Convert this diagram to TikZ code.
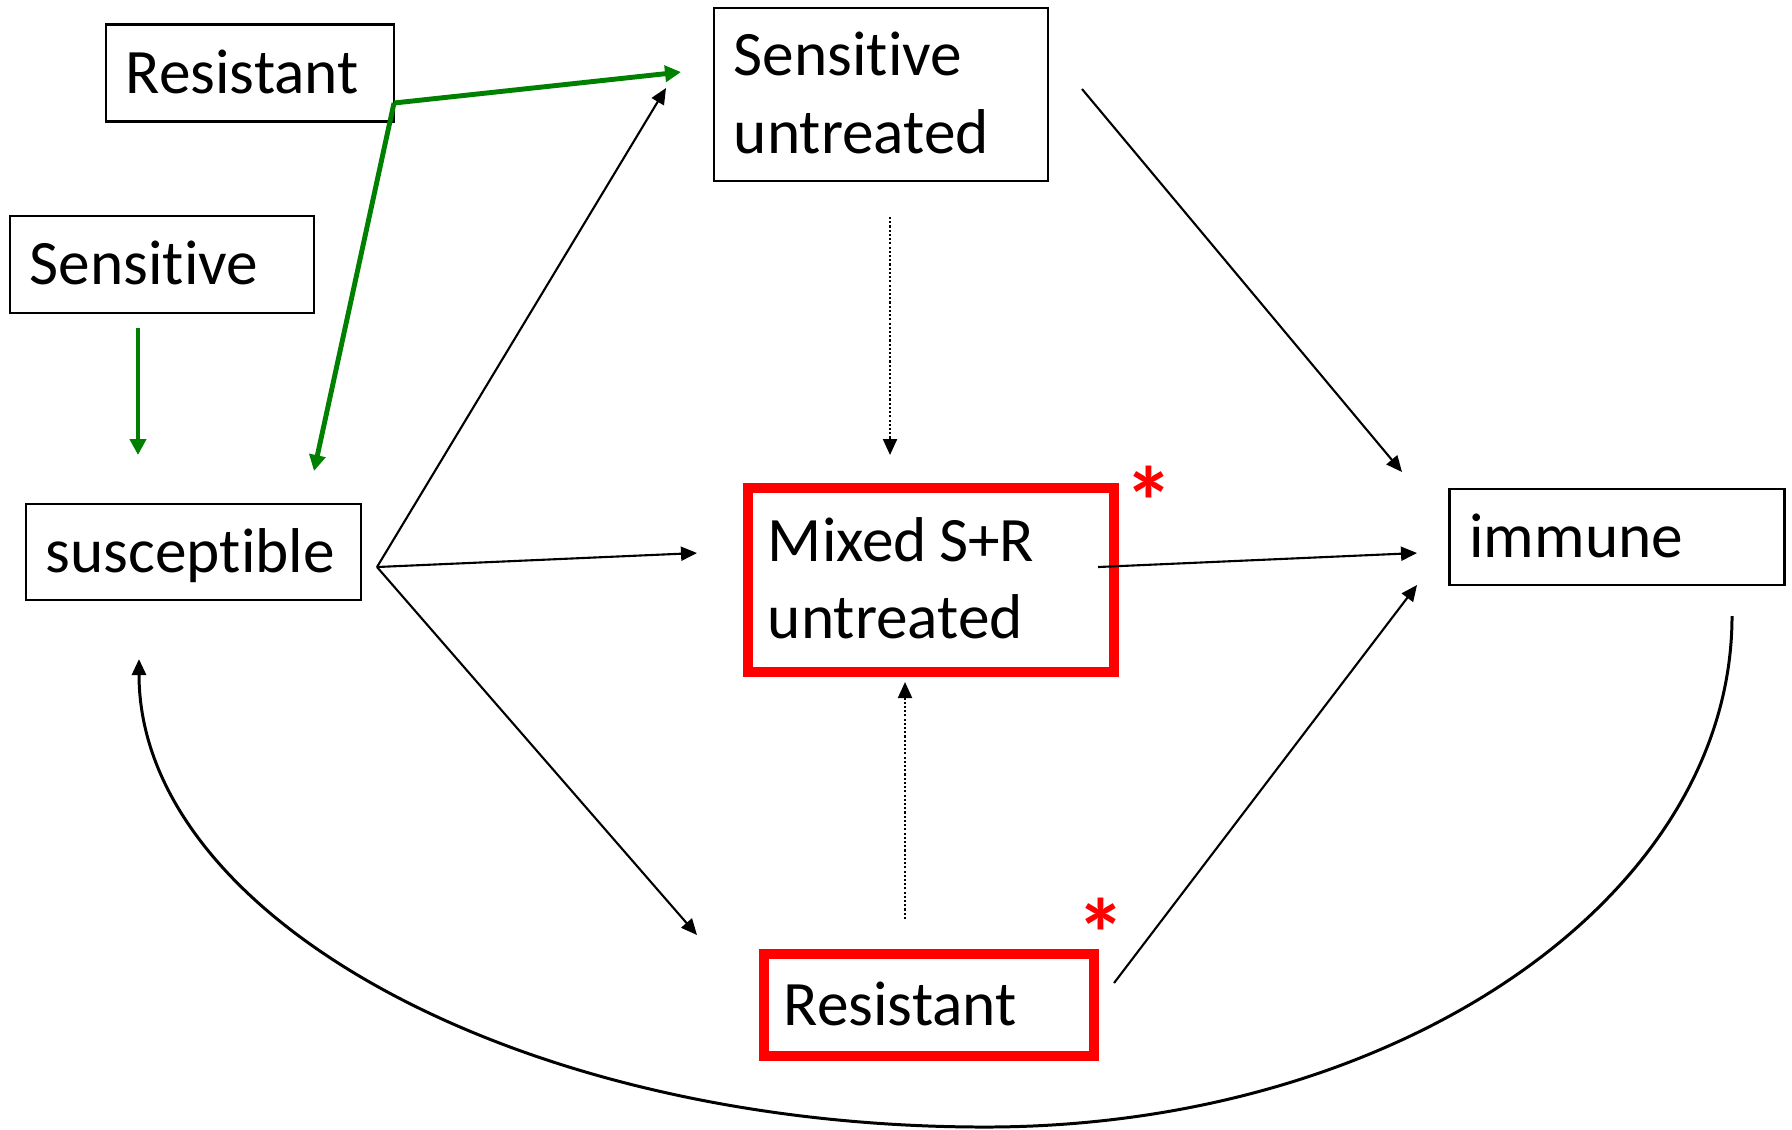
\documentclass[tikz,border=0pt]{standalone}
\usepackage{fontspec}
\setmainfont{Carlito}[Ligatures=NoCommon]
\usepackage{tikz}
\usetikzlibrary{arrows.meta}
\usepackage{xcolor}
\definecolor{pptgreen}{RGB}{0,128,0}
\definecolor{pptred}{RGB}{255,0,0}
\tikzset{
  statebox/.style={
    rectangle, draw=black, line width=0.7pt, align=left, inner xsep=0.2cm, inner ysep=0pt,
    text height=0.5cm, text depth=0.1cm, font=\fontsize{18}{22}\selectfont
  },
  twoline/.style={text depth=0.873cm},
  redbox/.style={statebox, draw=pptred, line width=2.8pt},
  arrow/.style={-{Triangle[length=0.16cm,width=0.14cm]}, line width=0.6pt, color=black},
  loopline/.style={arrow, line width=0.85pt},
  dotarrow/.style={arrow, dash pattern=on 0.6pt off 0.6pt},
  greenarrow/.style={-{Triangle[length=0.16cm,width=0.16cm]}, line width=1.4pt, color=pptgreen},
  redstar/.style={text=pptred, font=\fontsize{28}{30}\selectfont\bfseries, inner sep=0pt, anchor=north}
}

\begin{document}
\begin{tikzpicture}[x=0.01cm,y=-0.01cm]
  \useasboundingbox (0,0) rectangle (1792,1129);
  % compartments
  \node[statebox,text width=2.48cm,minimum height=0.97cm] (resTop) at (250,73) {Resistant};
  \node[statebox,text width=2.64cm,minimum height=0.97cm] (sensTop) at (162,264.5) {Sensitive};
  \node[statebox,text width=2.95cm,minimum height=0.96cm] (susc) at (193.5,552) {susceptible};
  \node[statebox,twoline,text width=2.94cm,minimum height=1.73cm] (sensUntr) at (881,94.5) {Sensitive\\untreated};
  \node[redbox,twoline,text width=3.26cm,minimum height=1.84cm] (mixed) at (931,580) {Mixed\hspace{0.12cm}S+R\\untreated};
  \node[redbox,text width=2.90cm,minimum height=1.02cm] (resBot) at (929,1005) {Resistant};
  \node[statebox,text width=2.95cm,minimum height=0.96cm] (immune) at (1617,537) {immune};
  \node[redstar] (astMixed) at (1149,465) {*};
  \node[redstar] (astRes) at (1101,897) {*};

  % free ends of the connectors
  \coordinate (jct) at (394,103);
  \coordinate (suGreen) at (681,72);
  \coordinate (suscGreen) at (314,471);
  \coordinate (sensOut) at (138,328);
  \coordinate (suscIn) at (138,455);
  \coordinate (fork) at (377,567);
  \coordinate (suIn) at (666,88);
  \coordinate (mixIn) at (697,553);
  \coordinate (resIn) at (697,935);
  \coordinate (suOut) at (1082,89);
  \coordinate (imIn1) at (1402,472);
  \coordinate (suDot) at (890,217);
  \coordinate (mixDot1) at (890,455);
  \coordinate (resDot) at (905,919);
  \coordinate (mixDot2) at (905,682);
  \coordinate (mixOut) at (1098,567);
  \coordinate (imIn2) at (1417,553);
  \coordinate (resOut) at (1114,983);
  \coordinate (imIn3) at (1417,585);
  \coordinate (imOut) at (1732,616);
  \coordinate (loopBot) at (985,1127);
  \coordinate (suscLoop) at (139,659);

  \draw[greenarrow] (jct) -- (suGreen);
  \draw[greenarrow] (jct) -- (suscGreen);
  \draw[greenarrow] (sensOut) -- (suscIn);

  \draw[arrow] (fork) -- (suIn);
  \draw[arrow] (fork) -- (mixIn);
  \draw[arrow] (fork) -- (resIn);
  \draw[arrow] (suOut) -- (imIn1);
  \draw[arrow] (mixOut) -- (imIn2);
  \draw[arrow] (resOut) -- (imIn3);
  \draw[dotarrow] (suDot) -- (mixDot1);
  \draw[dotarrow] (resDot) -- (mixDot2);

  \draw[loopline] (imOut) .. controls (1732,898) and (1397,1127) .. (loopBot)
    .. controls (518,1127) and (139,917) .. (suscLoop);
\end{tikzpicture}
\end{document}
